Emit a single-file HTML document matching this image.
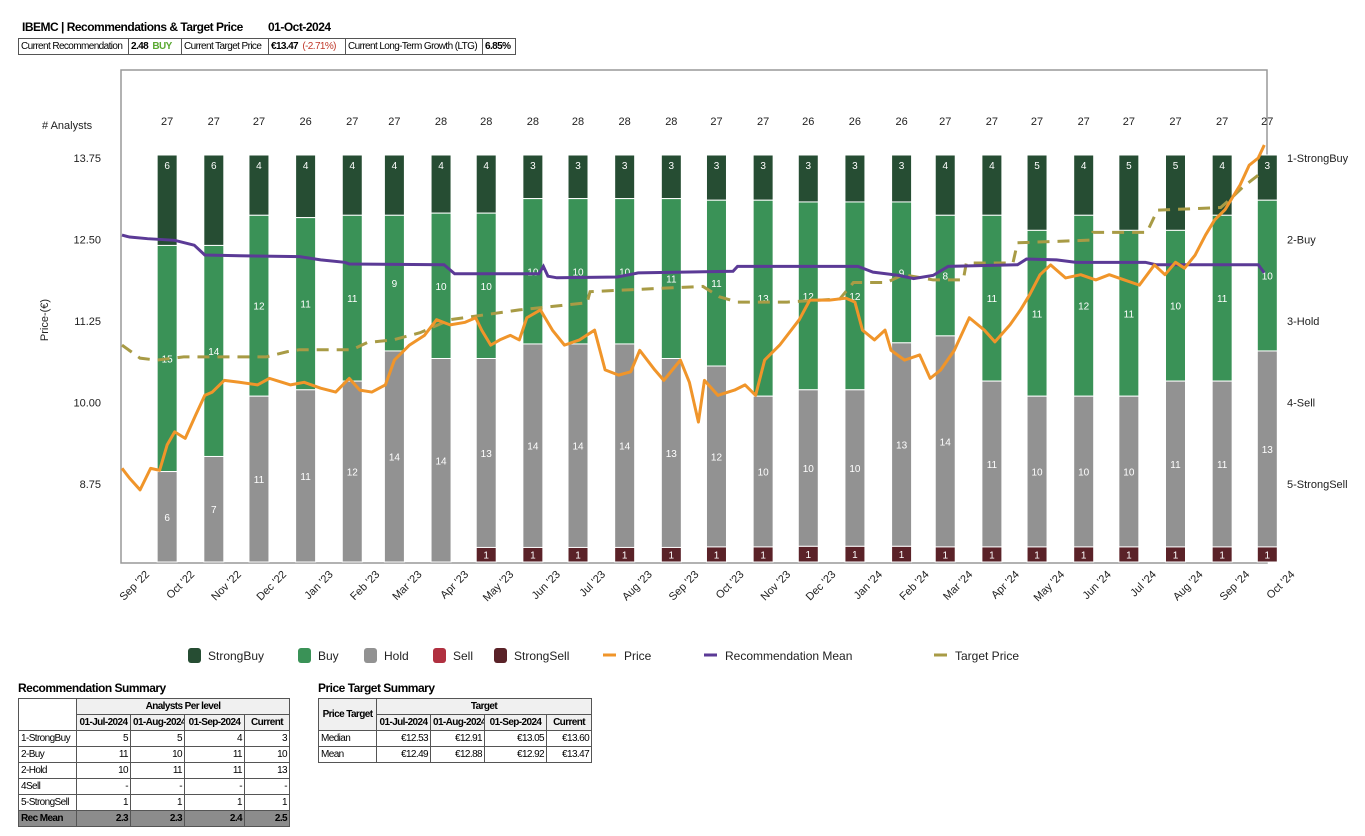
<!DOCTYPE html>
<html><head><meta charset="utf-8">
<style>
body{margin:0;width:1365px;height:836px;background:#fff;font-family:"Liberation Sans",sans-serif;position:relative;overflow:hidden}
.abs{position:absolute}
.title{font-weight:bold;font-size:12px;letter-spacing:-0.5px}
table{border-collapse:collapse;font-size:10px;letter-spacing:-0.6px;table-layout:fixed}
td{border:1px solid #555;padding:0 2px;height:15px;white-space:nowrap;overflow:hidden}
.r{text-align:right}.c{text-align:center}.b{font-weight:bold}
</style></head><body>
<div class="abs title" style="left:22px;top:20px">IBEMC | Recommendations &amp; Target Price</div>
<div class="abs title" style="left:268px;top:20px">01-Oct-2024</div>
<table class="abs" style="left:18px;top:38px;width:497px">
<colgroup><col style="width:110px"><col style="width:53px"><col style="width:87px"><col style="width:77px"><col style="width:137px"><col style="width:33px"></colgroup>
<tr><td>Current Recommendation</td><td class="b">2.48 &nbsp;<span style="color:#5aa832">BUY</span></td><td>Current Target Price</td><td class="b">€13.47 &nbsp;<span style="color:#c0392b;font-weight:normal">(-2.71%)</span></td><td>Current Long-Term Growth (LTG)</td><td class="b">6.85%</td></tr></table>

<svg class="abs" style="left:0;top:0" width="1365" height="680" id="chart" font-family="Liberation Sans, sans-serif"></svg>

<div class="abs title" style="left:18px;top:681px">Recommendation Summary</div>
<table class="abs" style="left:18px;top:698px;width:271px">
<colgroup><col style="width:58px"><col style="width:54px"><col style="width:54px"><col style="width:60px"><col style="width:45px"></colgroup>
<tr style="background:#f0f0f0"><td rowspan="2" style="background:#fff"></td><td colspan="4" class="c b">Analysts Per level</td></tr>
<tr style="background:#f0f0f0" class="b"><td class="c">01-Jul-2024</td><td class="c">01-Aug-2024</td><td class="c">01-Sep-2024</td><td class="c">Current</td></tr>
<tr><td>1-StrongBuy</td><td class="r">5</td><td class="r">5</td><td class="r">4</td><td class="r">3</td></tr>
<tr><td>2-Buy</td><td class="r">11</td><td class="r">10</td><td class="r">11</td><td class="r">10</td></tr>
<tr><td>2-Hold</td><td class="r">10</td><td class="r">11</td><td class="r">11</td><td class="r">13</td></tr>
<tr><td>4Sell</td><td class="r">-</td><td class="r">-</td><td class="r">-</td><td class="r">-</td></tr>
<tr><td>5-StrongSell</td><td class="r">1</td><td class="r">1</td><td class="r">1</td><td class="r">1</td></tr>
<tr style="background:#8c8c8c" class="b"><td>Rec Mean</td><td class="r">2.3</td><td class="r">2.3</td><td class="r">2.4</td><td class="r">2.5</td></tr>
</table>
<div class="abs title" style="left:318px;top:681px">Price Target Summary</div>
<table class="abs" style="left:318px;top:698px;width:273px">
<colgroup><col style="width:58px"><col style="width:54px"><col style="width:54px"><col style="width:62px"><col style="width:45px"></colgroup>
<tr style="background:#f0f0f0" class="b"><td rowspan="2" class="c">Price Target</td><td colspan="4" class="c">Target</td></tr>
<tr style="background:#f0f0f0" class="b"><td class="c">01-Jul-2024</td><td class="c">01-Aug-2024</td><td class="c">01-Sep-2024</td><td class="c">Current</td></tr>
<tr><td>Median</td><td class="r">€12.53</td><td class="r">€12.91</td><td class="r">€13.05</td><td class="r">€13.60</td></tr>
<tr><td>Mean</td><td class="r">€12.49</td><td class="r">€12.88</td><td class="r">€12.92</td><td class="r">€13.47</td></tr>
</table>

<script>
const months=["Oct '22","Nov '22","Dec '22","Jan '23","Feb '23","Mar '23","Apr '23","May '23","Jun '23","Jul '23","Aug '23","Sep '23","Oct '23","Nov '23","Dec '23","Jan '24","Feb '24","Mar '24","Apr '24","May '24","Jun '24","Jul '24","Aug '24","Sep '24","Oct '24"];
const barDays=[30,61,91,122,153,181,212,242,273,303,334,365,395,426,456,487,518,547,578,608,639,669,700,731,761];
const strongBuy=[6,6,4,4,4,4,4,4,3,3,3,3,3,3,3,3,3,4,4,5,4,5,5,4,3];
const buy=[15,14,12,11,11,9,10,10,10,10,10,11,11,13,12,12,9,8,11,11,12,11,10,11,10];
const hold=[6,7,11,11,12,14,14,13,14,14,14,13,12,10,10,10,13,14,11,10,10,10,11,11,13];
const sell=[0,0,0,0,0,0,0,0,0,0,0,0,0,0,0,0,0,0,0,0,0,0,0,0,0];
const strongSell=[0,0,0,0,0,0,0,1,1,1,1,1,1,1,1,1,1,1,1,1,1,1,1,1,1];
const tickLabels=["Sep '22","Oct '22","Nov '22","Dec '22","Jan '23","Feb '23","Mar '23","Apr '23","May '23","Jun '23","Jul '23","Aug '23","Sep '23","Oct '23","Nov '23","Dec '23","Jan '24","Feb '24","Mar '24","Apr '24","May '24","Jun '24","Jul '24","Aug '24","Sep '24","Oct '24"];
const tickDays=[0,30,61,91,122,153,181,212,242,273,303,334,365,395,426,456,487,518,547,578,608,639,669,700,731,761];
const priceTicks=[13.75,12.50,11.25,10.00,8.75];
const recLabels=["1-StrongBuy","2-Buy","3-Hold","4-Sell","5-StrongSell"];
const priceDays=[0,5,12,19,25,30,35,42,49,55,60,68,78,90,98,112,121,132,142,151,158,166,175,181,191,201,209,218,228,235,239,245,251,258,264,269,278,286,294,304,314,321,330,338,344,354,360,371,377,383,387,396,407,414,421,427,437,450,457,470,481,487,492,500,507,511,520,530,537,544,553,563,573,580,590,597,603,610,617,627,637,647,656,666,676,686,693,700,706,713,720,726,733,743,749,755,759];
const priceVals=[8.99,8.84,8.66,8.99,8.96,9.35,9.55,9.45,9.81,10.11,10.16,10.34,10.31,10.27,10.37,10.27,10.31,10.22,10.16,10.37,10.19,10.16,10.27,10.65,10.88,11.03,11.27,11.19,11.23,11.30,11.11,10.88,10.96,11.03,10.96,11.30,11.42,11.11,10.88,10.96,11.11,10.50,10.42,10.47,10.80,10.50,10.34,10.65,10.31,9.70,10.34,10.11,10.19,10.27,10.11,10.65,10.88,11.27,11.57,11.57,11.60,11.54,11.11,10.96,11.11,10.80,10.65,10.73,10.37,10.50,10.80,11.30,11.11,10.93,11.19,11.42,11.65,11.96,12.11,11.91,11.96,11.88,11.96,11.88,11.80,12.11,11.96,12.15,12.06,12.26,12.57,12.80,12.96,13.34,13.64,13.75,13.95];
const recDays=[0,5,17,35,48,55,78,118,132,148,151,214,221,277,280,283,289,329,343,406,409,489,499,516,526,539,549,595,601,621,634,680,687,755,759];
const recVals=[1.945,1.97,1.99,2.01,2.07,2.19,2.20,2.21,2.25,2.28,2.30,2.31,2.42,2.42,2.33,2.45,2.47,2.46,2.41,2.39,2.33,2.33,2.40,2.44,2.48,2.44,2.33,2.31,2.24,2.25,2.28,2.28,2.31,2.31,2.41];
const targetDays=[0,12,23,41,96,110,118,153,163,180,198,218,264,309,311,366,386,397,409,442,477,486,508,519,539,559,561,592,595,643,645,681,688,730,736,745,758];
const targetVals=[10.88,10.68,10.65,10.70,10.70,10.78,10.81,10.81,10.92,10.96,11.07,11.27,11.42,11.53,11.70,11.76,11.78,11.62,11.54,11.54,11.59,11.84,11.84,11.96,11.88,11.88,12.14,12.14,12.45,12.49,12.61,12.61,12.95,12.99,13.11,13.31,13.54];

const L=121,R=1267,T=70,B=563,barTop=155,barW=20;
const xDay=d=>122+d*1.505;
const yPrice=p=>158+(13.75-p)/1.25*81.5;
const yRec=r=>158+(r-1)*81.5;
const svg=document.getElementById('chart');
const NS='http://www.w3.org/2000/svg';
function mk(tag,attrs,txt){const e=document.createElementNS(NS,tag);for(const k in attrs)e.setAttribute(k,attrs[k]);if(txt!==undefined)e.textContent=txt;svg.appendChild(e);return e;}

let e=mk('rect',{x:L,y:T,width:R-L,height:B-T,fill:'none',stroke:'#999','stroke-width':1.5});


e=mk('text',{x:42,y:129,'font-size':11,fill:'#222'},'# Analysts');


e=mk('text',{x:48,y:320,'font-size':11,fill:'#222','text-anchor':'middle',transform:'rotate(-90 48 320)'},'Price-(€)');


priceTicks.forEach(p=>{const t=mk('text',{x:101,y:yPrice(p)+4,'font-size':11,fill:'#222','text-anchor':'end'},p.toFixed(2));

});
recLabels.forEach((s,i)=>{const t=mk('text',{x:1287,y:yRec(i+1)+4,'font-size':11,fill:'#222'},s);

});
tickLabels.forEach((s,i)=>{const x=xDay(tickDays[i])+28,y=575;const t=mk('text',{x:x,y:y,'font-size':11,fill:'#222','text-anchor':'end',transform:`rotate(-45 ${x} ${y})`},s);

});

const segCols=['#264d33','#3a9257','#929292','#b03040','#5a2228'];
const segNames=['strongbuy','buy','hold','sell','strongsell'];
months.forEach((m,i)=>{
  const vals=[strongBuy[i],buy[i],hold[i],sell[i],strongSell[i]];
  const tot=vals.reduce((a,b)=>a+b,0);
  const cx=xDay(barDays[i]);
  const t=mk('text',{x:cx,y:125,'font-size':11,fill:'#222','text-anchor':'middle'},tot);
  
  
  let y=barTop;const h=B-1-barTop;
  vals.forEach((v,k)=>{if(!v)return;const sh=h*v/tot;
    const r=mk('rect',{x:cx-barW/2,y:y,width:barW,height:sh,fill:segCols[k],stroke:'#fff','stroke-width':1});
    
    
    const lt=mk('text',{x:cx,y:k==4?y+sh/2+4:(k==0?y+14:y+sh/2+4),'font-size':10,fill:'#fff','text-anchor':'middle'},v);
    
    
    y+=sh;});
});
function pts(ds,vs,f){return ds.map((d,i)=>xDay(d)+','+f(vs[i])).join(' ');}
e=mk('polyline',{points:pts(targetDays,targetVals,yPrice),fill:'none',stroke:'#a89b45','stroke-width':3,'stroke-dasharray':'12,8'});


e=mk('polyline',{points:pts(recDays,recVals,yRec),fill:'none',stroke:'#5b3a96','stroke-width':3});


e=mk('polyline',{points:pts(priceDays,priceVals,yPrice),fill:'none',stroke:'#f0952a','stroke-width':3,'stroke-linejoin':'round'});



const legItems=[['StrongBuy','#264d33',188,'box'],['Buy','#3a9257',298,'box'],['Hold','#929292',364,'box'],['Sell','#b03040',433,'box'],['StrongSell','#5a2228',494,'box'],['Price','#f0952a',603,'line'],['Recommendation Mean','#5b3a96',704,'line'],['Target Price','#a89b45',934,'line']];
legItems.forEach(it=>{const g=document.createElementNS(NS,'g');svg.appendChild(g);
  
  
  const s=document.createElementNS(NS,it[3]=='box'?'rect':'line');
  if(it[3]=='box'){s.setAttribute('x',it[2]);s.setAttribute('y',648);s.setAttribute('width',13);s.setAttribute('height',15);s.setAttribute('rx',3);s.setAttribute('fill',it[1]);}
  else{s.setAttribute('x1',it[2]);s.setAttribute('x2',it[2]+13);s.setAttribute('y1',655);s.setAttribute('y2',655);s.setAttribute('stroke',it[1]);s.setAttribute('stroke-width',3);}
  g.appendChild(s);
  const t=document.createElementNS(NS,'text');t.setAttribute('x',it[2]+(it[3]=='box'?20:21));t.setAttribute('y',660);t.setAttribute('font-size',12);t.setAttribute('fill','#222');t.textContent=it[0];g.appendChild(t);});
</script>
</body></html>
